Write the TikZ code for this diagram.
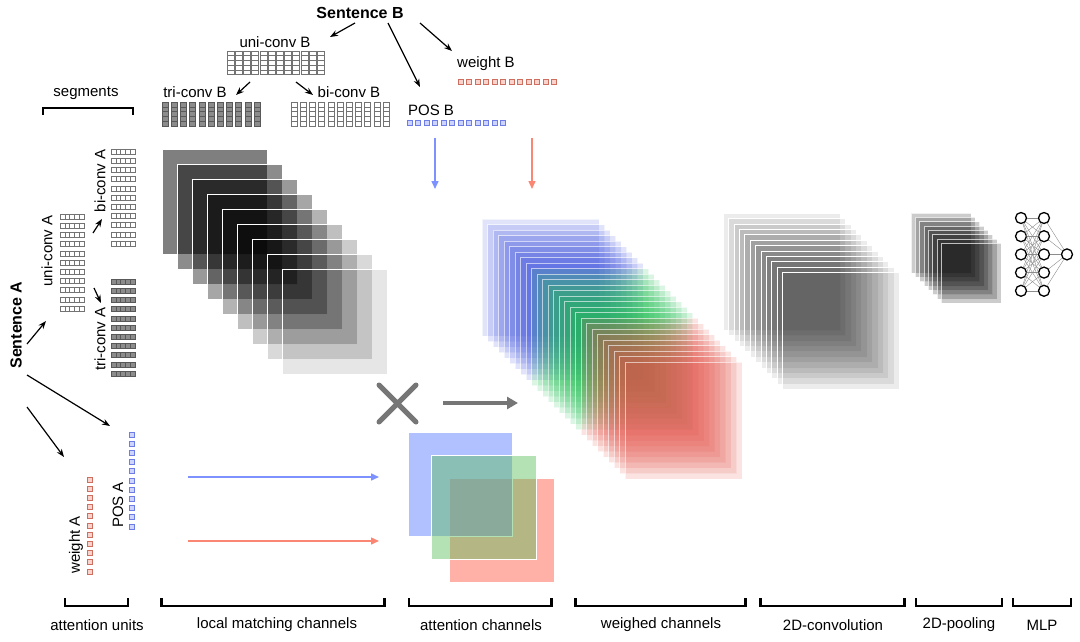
\documentclass[tikz,border=0pt]{standalone}
\usepackage{fontspec}
\setmainfont{Liberation Sans}
\usetikzlibrary{arrows.meta}
\definecolor{posline}{RGB}{110,125,230}
\definecolor{posfill}{RGB}{205,212,255}
\definecolor{wtline}{RGB}{205,110,95}
\definecolor{wtfill}{RGB}{250,212,204}
\definecolor{chblue}{RGB}{100,130,255}
\definecolor{chgreen}{RGB}{90,190,90}
\definecolor{chred}{RGB}{255,100,80}
\definecolor{wblue}{RGB}{60,80,220}
\definecolor{wgreen}{RGB}{30,190,80}
\definecolor{wred}{RGB}{225,80,70}
\definecolor{ablue}{RGB}{125,145,255}
\definecolor{ared}{RGB}{250,135,115}
\definecolor{xgray}{RGB}{118,118,118}
\begin{document}
\begin{tikzpicture}[x=1pt, y=-1pt,
    font=\fontsize{15}{18}\selectfont,
    title/.style={font=\fontsize{16}{18}\selectfont\bfseries},
    arrow/.style={-{Stealth[length=8pt,width=6pt]}, line width=1.2pt},
    cell/.style={draw=black!55, line width=0.5pt, fill=white},
    tcell/.style={draw=black!65, line width=0.5pt, fill=black!45},
    posunit/.style={draw=posline, fill=posfill, line width=0.7pt},
    wtunit/.style={draw=wtline, fill=wtfill, line width=0.7pt},
    bracket/.style={line width=1.3pt},
    endtick/.style={line width=3pt},
    lmc/.style={fill=black, draw=white, line width=0.8pt},
    att/.style={fill opacity=0.5, draw=white, line width=0.6pt},
    wch/.style={fill opacity=0.16, draw=white, draw opacity=0.6, line width=0.6pt},
    conv/.style={fill=black, fill opacity=0.075, draw=white, line width=0.6pt},
    pool/.style={fill=black, fill opacity=0.2, draw=white, draw opacity=0.7, line width=0.5pt},
    cross/.style={draw=xgray, line width=5pt, line cap=round},
    fwd/.style={draw=xgray, line width=4pt, -{Triangle[length=11pt,width=12pt]}},
    feed/.style={line width=1.5pt, -{Triangle[length=8pt,width=7pt]}},
    neuron/.style={circle, draw, line width=1.3pt, fill=white, minimum size=11pt, inner sep=0pt},
    syn/.style={draw=black!45, line width=0.4pt}
]
\useasboundingbox (0,0) rectangle (1080,642);

% sentence B side
\node[title] (sentB) at (360,13) {Sentence B};
\node (uniB) at (275,42) {uni-conv B};
\node (triB) at (195,92) {tri-conv B};
\node (biB) at (349,92) {bi-conv B};
\node (wtB) at (486,64) {weight B};
\node (posB) at (431,110) {POS B};

\foreach \i in {0,...,11}
  \foreach \j in {0,...,4}
    \draw[cell] ({227+8.2*\i},{51+4.7*\j}) rectangle +(7,4.7);
\foreach \i in {0,...,10}
  \foreach \j in {0,...,4} {
    \draw[tcell] ({162+9.2*\i},{102+4.8*\j}) rectangle +(6,4.8);
    \draw[cell] ({291+9.2*\i},{102+4.8*\j}) rectangle +(6,4.8);
  }
\foreach \i in {0,...,11} {
  \draw[posunit] ({407+8.5*\i},120.5) rectangle +(5,5);
  \draw[wtunit] ({458+8.5*\i},79.5) rectangle +(5,5);
}

\coordinate (sb1) at (355,23);
\coordinate (sb2) at (388,23);
\coordinate (sb3) at (420,23);
\coordinate (touni) at (330,37);
\coordinate (topos) at (420,87);
\coordinate (towt) at (452,51);
\coordinate (unib1) at (250,82);
\coordinate (unib2) at (296,82);
\coordinate (totri) at (236,95);
\coordinate (tobi) at (313,95);
\draw[arrow] (sb1) -- (touni);
\draw[arrow] (sb2) -- (topos);
\draw[arrow] (sb3) -- (towt);
\draw[arrow] (unib1) -- (totri);
\draw[arrow] (unib2) -- (tobi);

% sentence A side
\node[title, rotate=90] (sentA) at (16,325) {Sentence A};
\node (seg) at (86,93) {segments};
\node[rotate=90] (biA) at (100,181) {bi-conv A};
\node[rotate=90] (uniA) at (47,251) {uni-conv A};
\node[rotate=90] (triA) at (100,339) {tri-conv A};
\node[rotate=90] (posA) at (118,505) {POS A};
\node[rotate=90] (wtA) at (76,545) {weight A};

\draw[bracket] (43,115) |- (133,108) -- (133,115);

\foreach \i in {0,...,10}
  \foreach \j in {0,...,4} {
    \draw[cell] ({111+4.8*\j},{149+9.2*\i}) rectangle +(4.8,5);
    \draw[cell] ({60+4.8*\j},{214+9.2*\i}) rectangle +(4.8,5);
    \draw[tcell] ({111+4.8*\j},{279+9.2*\i}) rectangle +(4.8,5);
  }
\foreach \i in {0,...,10} {
  \draw[posunit] (129.5,{432+9.2*\i}) rectangle +(5,5);
  \draw[wtunit] (87.5,{477+9.2*\i}) rectangle +(5,5);
}

\coordinate (unia1) at (93,233);
\coordinate (unia2) at (94,288);
\coordinate (tobiA) at (102,219);
\coordinate (totriA) at (101,303);
\coordinate (sa1) at (27,344);
\coordinate (sa2) at (27,375);
\coordinate (sa3) at (27,407);
\coordinate (touniA) at (46,321);
\coordinate (toposA) at (110,426);
\coordinate (towtA) at (64,457);
\draw[arrow] (unia1) -- (tobiA);
\draw[arrow] (unia2) -- (totriA);
\draw[arrow] (sa1) -- (touniA);
\draw[arrow] (sa2) -- (toposA);
\draw[arrow] (sa3) -- (towtA);

% local matching channels
\foreach \i [evaluate=\i as \op using 0.5-0.05*\i] in {0,...,8}
  \draw[lmc, fill opacity=\op] ({162+15.1*\i},{149+15.1*\i}) rectangle +(105,105);

% attention feeds
\coordinate (posBout) at (435,138);
\coordinate (posBin) at (435,189);
\coordinate (wtBout) at (532,138);
\coordinate (wtBin) at (532,189);
\coordinate (posAout) at (188,477);
\coordinate (posAin) at (379,477);
\coordinate (wtAout) at (188,541);
\coordinate (wtAin) at (379,541);
\draw[feed, draw=ablue] (posBout) -- (posBin);
\draw[feed, draw=ared] (wtBout) -- (wtBin);
\draw[feed, draw=ablue] (posAout) -- (posAin);
\draw[feed, draw=ared] (wtAout) -- (wtAin);

% attention channels
\draw[att, fill=chred] (449,478) rectangle (554,582);
\draw[att, fill=chblue] (408,432) rectangle (512,536);
\draw[att, fill=chgreen, fill opacity=0.45] (431,455) rectangle (536,559);

% product and result
\draw[cross] (379,385) -- (416,422) (379,422) -- (416,385);
\coordinate (mulout) at (443,403);
\coordinate (mulin) at (518,403);
\draw[fwd] (mulout) -- (mulin);

% weighed channels
\foreach \i in {0,...,8}
  \draw[wch, fill=wblue] ({482+5.5*\i},{219+5.5*\i}) rectangle +(117,117);
\foreach \i in {9,...,17}
  \draw[wch, fill=wgreen] ({482+5.5*\i},{219+5.5*\i}) rectangle +(117,117);
\foreach \i in {18,...,26}
  \draw[wch, fill=wred] ({482+5.5*\i},{219+5.5*\i}) rectangle +(117,117);

% 2D convolution and pooling
\foreach \i in {0,...,11}
  \draw[conv] ({723+5.4*\i},{213+5.4*\i}) rectangle +(117,117);
\foreach \i in {0,...,7}
  \draw[pool] ({911+4.3*\i},{213+4.3*\i}) rectangle +(60,60);

% MLP
\foreach \j in {0,...,4} {
  \node[neuron] (h\j) at (1021,{218+18.2*\j}) {};
  \node[neuron] (g\j) at (1044,{218+18.2*\j}) {};
}
\node[neuron] (out) at (1067,254.4) {};
\foreach \a in {0,...,4} {
  \foreach \b in {0,...,4}
    \draw[syn] (h\a) -- (g\b);
  \draw[syn] (g\a) -- (out);
}

% stage brackets
\draw[bracket] (65,598) |- (128,606) -- (128,598);
\draw[bracket] (161,599) |- (385,606) -- (385,599);
\draw[endtick] (161.5,598) -- (161.5,607) (384.5,598) -- (384.5,607);
\draw[bracket] (409,598) |- (552,606) -- (552,598);
\draw[endtick] (551,598) -- (551,607);
\draw[bracket] (575,598) |- (746,606) -- (746,598);
\draw[endtick] (575.5,598) -- (575.5,607) (745.5,598) -- (745.5,607);
\draw[bracket] (760,598) |- (905,606) -- (905,598);
\draw[endtick] (760.5,598) -- (760.5,607) (904.5,598) -- (904.5,607);
\draw[bracket] (916,598) |- (1002,606) -- (1002,598);
\draw[bracket] (1013,598) |- (1071,606) -- (1071,598);

\node (lblunits) at (97,625) {attention units};
\node (lbllocal) at (277,625) {local matching channels};
\node (lblatt) at (481,625) {attention channels};
\node (lblweigh) at (661,625) {weighed channels};
\node (lblconv) at (833,625) {2D-convolution};
\node (lblpool) at (959,625) {2D-pooling};
\node (lblmlp) at (1042,625) {MLP};
\end{tikzpicture}
\end{document}
